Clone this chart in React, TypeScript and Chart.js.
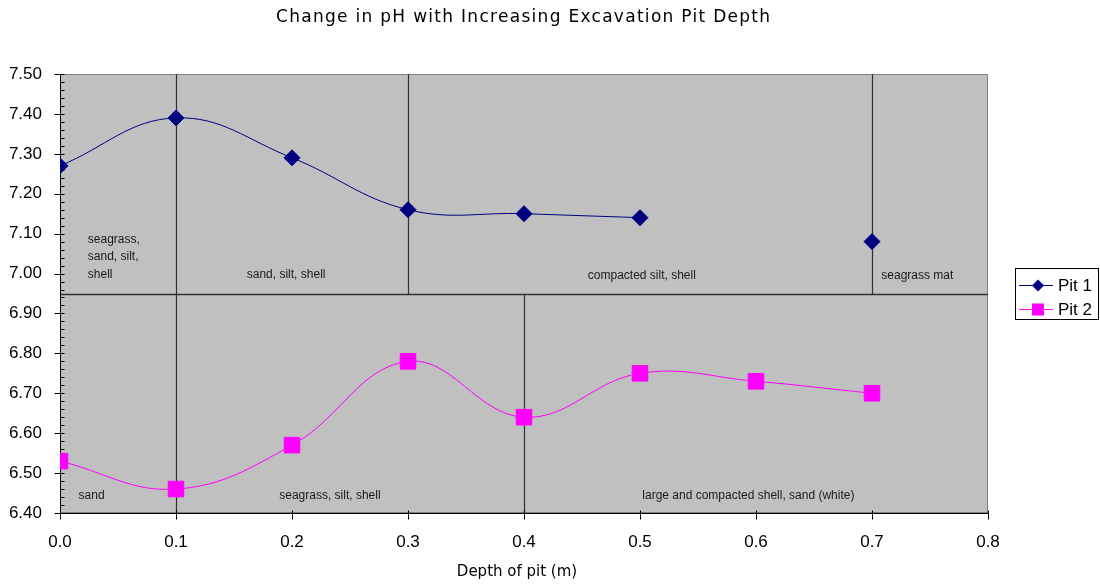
import React, { useEffect, useRef } from "react";
import { Chart, registerables } from "chart.js";

Chart.register(...registerables);

// Sampling depths (m) and measured pH in each pit
const depths = [0.0, 0.1, 0.2, 0.3, 0.4, 0.5, 0.6, 0.7];
const pit1 = [7.27, 7.39, 7.29, 7.16, 7.15, 7.14, null, 7.08];
const pit2 = [6.53, 6.46, 6.57, 6.78, 6.64, 6.75, 6.73, 6.7];

// Axis ranges and tick spacing
const xRange = [0, 0.8];
const xStep = 0.1;
const yRange = [6.4, 7.5];
const yStep = 0.1;
const yMinorStep = 0.02;

// pH that separates the Pit 1 panel (above) from the Pit 2 panel (below)
const panelSplit = 6.95;
// Depths where the sediment layer changes in each pit
const pit1Breaks = [0.1, 0.3, 0.7];
const pit2Breaks = [0.1, 0.4];

// Sediment layer names and where they are written (depth, pH of first line)
const pit1Layers = [
  { text: ["seagrass,", "sand, silt,", "shell"], x: 0.024, y: 7.085 },
  { text: ["sand, silt, shell"], x: 0.161, y: 6.997 },
  { text: ["compacted silt, shell"], x: 0.455, y: 6.995 },
  { text: ["seagrass mat"], x: 0.708, y: 6.995 },
];
const pit2Layers = [
  { text: ["sand"], x: 0.016, y: 6.443 },
  { text: ["seagrass, silt, shell"], x: 0.189, y: 6.443 },
  { text: ["large and compacted shell, sand (white)"], x: 0.502, y: 6.443 },
];

const titleText = "Change in pH with Increasing Excavation Pit Depth";
const xTitle = "Depth of pit (m)";
const seriesNames = ["Pit 1", "Pit 2"];
const pit1Color = "#000080";
const pit2Color = "#FF00FF";

const layerPlugin = {
  id: "layers",
  beforeDraw(chart: any) {
    const { ctx, chartArea: a } = chart;
    ctx.save();
    ctx.fillStyle = "#C0C0C0";
    ctx.fillRect(a.left, a.top, a.right - a.left, a.bottom - a.top);
    ctx.restore();
  },
  beforeDatasetsDraw(chart: any) {
    const { ctx, chartArea: a } = chart;
    const xs = chart.scales.x;
    const ys = chart.scales.y;
    ctx.save();

    // plot frame
    ctx.strokeStyle = "#808080";
    ctx.lineWidth = 1;
    ctx.strokeRect(a.left + 0.5, a.top + 0.5, a.right - a.left - 1, a.bottom - a.top - 1);

    const splitY = Math.round(ys.getPixelForValue(panelSplit)) + 0.5;
    const topY = ys.getPixelForValue(yRange[1]);
    const botY = ys.getPixelForValue(yRange[0]);

    ctx.strokeStyle = "#303030";
    ctx.lineWidth = 1.3;
    ctx.beginPath();
    ctx.moveTo(a.left, splitY);
    ctx.lineTo(a.right, splitY);
    ctx.stroke();

    ctx.lineWidth = 1.2;
    const vline = (d: number, y0: number, y1: number) => {
      const px = Math.round(xs.getPixelForValue(d)) + 0.5;
      ctx.beginPath();
      ctx.moveTo(px, y0);
      ctx.lineTo(px, y1);
      ctx.stroke();
    };
    pit1Breaks.forEach((d) => vline(d, topY, splitY));
    pit2Breaks.forEach((d) => vline(d, splitY, botY));

    // layer names
    ctx.fillStyle = "#1a1a1a";
    ctx.font = '12px "Liberation Sans", Arial, sans-serif';
    ctx.textAlign = "left";
    ctx.textBaseline = "middle";
    [...pit1Layers, ...pit2Layers].forEach((l) => {
      const px = xs.getPixelForValue(l.x);
      const py = ys.getPixelForValue(l.y);
      l.text.forEach((line, i) => {
        ctx.fillText(line, px, py + i * 17.5);
      });
    });

    // axes with tick marks
    ctx.strokeStyle = "#000000";
    ctx.lineWidth = 1;
    const left = Math.round(a.left) + 0.5;
    const bottom = Math.round(a.bottom) + 0.5;
    ctx.beginPath();
    ctx.moveTo(left, a.top);
    ctx.lineTo(left, bottom);
    ctx.lineTo(a.right, bottom);
    ctx.stroke();

    ctx.beginPath();
    const nMinor = Math.round((yRange[1] - yRange[0]) / yMinorStep);
    for (let i = 0; i <= nMinor; i++) {
      const v = yRange[0] + i * yMinorStep;
      const py = Math.round(ys.getPixelForValue(v)) + 0.5;
      const major = i % Math.round(yStep / yMinorStep) === 0;
      ctx.moveTo(major ? left - 6 : left, py);
      ctx.lineTo(left + 4, py);
    }
    const nX = Math.round((xRange[1] - xRange[0]) / xStep);
    for (let i = 0; i <= nX; i++) {
      const px = Math.round(xs.getPixelForValue(xRange[0] + i * xStep)) + 0.5;
      ctx.moveTo(px, bottom - 3);
      ctx.lineTo(px, bottom + 6);
    }
    ctx.stroke();
    ctx.restore();
  },
  afterDraw(chart: any) {
    const { ctx, chartArea: a } = chart;
    ctx.save();

    // title
    ctx.fillStyle = "#000000";
    ctx.font = '17px "DejaVu Sans", Verdana, sans-serif';
    ctx.textBaseline = "middle";
    ctx.textAlign = "left";
    const natural = ctx.measureText(titleText).width;
    const targetW = 494;
    const spacing = (targetW - natural) / (titleText.length - 1);
    (ctx as any).letterSpacing = spacing.toFixed(2) + "px";
    ctx.fillText(titleText, 523 - targetW / 2, 18);
    (ctx as any).letterSpacing = "0px";

    // x axis title
    ctx.font = '15px "DejaVu Sans", Verdana, sans-serif';
    ctx.textAlign = "center";
    ctx.fillText(xTitle, (a.left + a.right) / 2 - 7, 572);

    // legend
    const lx = 1015.5, ly = 268.5, lw = 83, lh = 51;
    ctx.fillStyle = "#FFFFFF";
    ctx.fillRect(lx, ly, lw, lh);
    ctx.strokeStyle = "#000000";
    ctx.lineWidth = 1;
    ctx.strokeRect(lx, ly, lw, lh);
    const rows = [
      { y: 285.5, color: pit1Color, style: "rectRot", r: 6 },
      { y: 309.5, color: pit2Color, style: "rect", r: 8.5 },
    ];
    ctx.font = '17px "Liberation Sans", Arial, sans-serif';
    ctx.textAlign = "left";
    rows.forEach((row, i) => {
      ctx.strokeStyle = row.color;
      ctx.lineWidth = 1;
      ctx.beginPath();
      ctx.moveTo(1019, row.y);
      ctx.lineTo(1053, row.y);
      ctx.stroke();
      ctx.fillStyle = row.color;
      ctx.beginPath();
      if (row.style === "rectRot") {
        ctx.moveTo(1038, row.y - row.r);
        ctx.lineTo(1038 + row.r, row.y);
        ctx.lineTo(1038, row.y + row.r);
        ctx.lineTo(1038 - row.r, row.y);
        ctx.closePath();
      } else {
        const s = row.r * Math.SQRT1_2;
        ctx.rect(1038 - s, row.y - s, 2 * s, 2 * s);
      }
      ctx.fill();
      ctx.fillStyle = "#000000";
      ctx.fillText(seriesNames[i], 1058, row.y + 1);
    });
    ctx.restore();
  },
};

export default function App() {
  const ref = useRef<HTMLCanvasElement | null>(null);

  useEffect(() => {
    if (!ref.current) return;
    const chart = new Chart(ref.current, {
      type: "line",
      data: {
        datasets: [
          {
            label: seriesNames[0],
            data: depths.map((d, i) => ({ x: d, y: pit1[i] })) as any,
            borderColor: pit1Color,
            backgroundColor: pit1Color,
            borderWidth: 1,
            pointStyle: "rectRot",
            pointRadius: 8,
            pointBorderWidth: 1,
            pointBorderColor: pit1Color,
            tension: 0.4,
            spanGaps: false,
          },
          {
            label: seriesNames[1],
            data: depths.map((d, i) => ({ x: d, y: pit2[i] })),
            borderColor: pit2Color,
            backgroundColor: pit2Color,
            borderWidth: 1,
            pointStyle: "rect",
            pointRadius: 11,
            pointBorderWidth: 1,
            pointBorderColor: pit2Color,
            tension: 0.4,
          },
        ],
      },
      options: {
        responsive: false,
        animation: false,
        layout: { padding: { top: 74, right: 112, left: 0, bottom: 0 } },
        plugins: {
          legend: { display: false },
          title: { display: false },
          tooltip: { enabled: false },
        },
        scales: {
          x: {
            type: "linear",
            min: xRange[0],
            max: xRange[1],
            grid: { display: false },
            border: { display: false },
            ticks: {
              stepSize: xStep,
              padding: 11,
              color: "#000000",
              font: { family: '"Liberation Sans", Arial, sans-serif', size: 17 },
              callback: (v: any) => Number(v).toFixed(1),
              maxRotation: 0,
            },
            afterFit: (s: any) => {
              s.height = 72;
            },
          },
          y: {
            type: "linear",
            min: yRange[0],
            max: yRange[1],
            grid: { display: false },
            border: { display: false },
            ticks: {
              stepSize: yStep,
              padding: 10,
              color: "#000000",
              font: { family: '"Liberation Sans", Arial, sans-serif', size: 17 },
              callback: (v: any) => Number(v).toFixed(2),
            },
            afterFit: (s: any) => {
              s.width = 60;
            },
          },
        },
      },
      plugins: [layerPlugin],
    });
    return () => chart.destroy();
  }, []);

  return (
    <div style={{ position: "fixed", left: 0, top: 0, width: 1100, height: 585, background: "#FFFFFF" }}>
      <canvas ref={ref} width={1100} height={585} />
    </div>
  );
}
